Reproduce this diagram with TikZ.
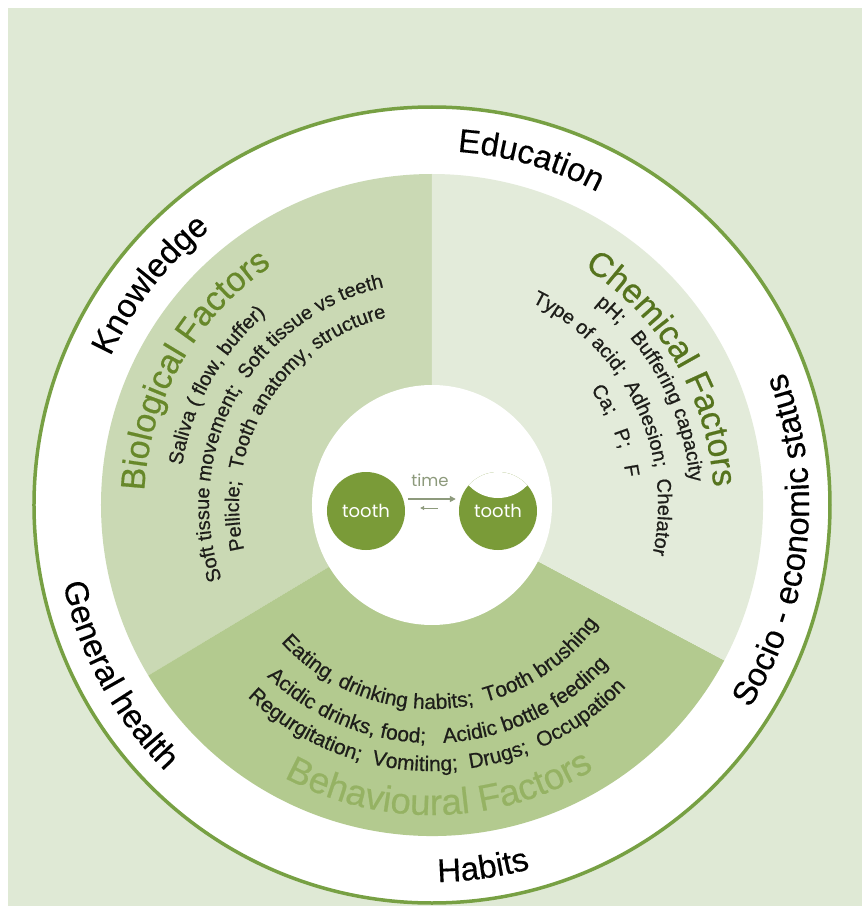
\documentclass[tikz,border=0pt]{standalone}
\usepackage{fontspec}
\setmainfont{Liberation Sans}
\newfontfamily\roundfont{Poppins}
\newfontfamily\ringface{Liberation Sans}[FakeBold=0.3]
\newfontfamily\titleface{Liberation Sans}[FakeBold=0.6]
\newfontfamily\itemface{Liberation Sans}[FakeBold=0.6]
\usetikzlibrary{decorations.text,arrows.meta}

\definecolor{pagebg}{HTML}{DFE9D5}
\definecolor{ringline}{HTML}{77A043}
\definecolor{biosec}{HTML}{CAD9B4}
\definecolor{chemsec}{HTML}{E3EBDA}
\definecolor{behavsec}{HTML}{B3CA8F}
\definecolor{biotitle}{HTML}{67882A}
\definecolor{chemtitle}{HTML}{56741E}
\definecolor{behavtitle}{HTML}{95B263}
\definecolor{toothgreen}{HTML}{7A9B38}
\definecolor{timegray}{HTML}{8D9A7C}
\definecolor{itemblack}{HTML}{1E1E1A}

\newcommand\ringfont{\ringface\fontsize{33}{40}\selectfont}
\newcommand\titlefont{\titleface\fontsize{34}{40}\selectfont}
\newcommand\bigtitlefont{\titleface\fontsize{36.5}{40}\selectfont}
\newcommand\itemfont{\itemface\fontsize{20}{24}\selectfont}
\newcommand\wideitemfont{\itemface\fontsize{21}{24}\selectfont}

% text on a clockwise arc (letters point outward): radius, centre angle, colour, font, text
\newcommand\cwtext[5]{%
  \path[decorate,decoration={text along path,text align=center,text color=#3,text={|#4|#5}}]
    ({#2+80}:#1) arc[start angle={#2+80},end angle={#2-80},radius=#1];}
% text on a counter-clockwise arc (letters point inward)
\newcommand\ccwtext[5]{%
  \path[decorate,decoration={text along path,text align=center,text color=#3,text={|#4|#5}}]
    ({#2-80}:#1) arc[start angle={#2-80},end angle={#2+80},radius=#1];}

\tikzset{
  toothdisc/.style={circle,fill=toothgreen,minimum size=78,inner sep=0,
    text=white,font=\roundfont\fontsize{18}{20}\selectfont},
  timearrow/.style={draw=timegray,line width=1.8,-{Triangle[length=6,width=6]}},
  backarrow/.style={draw=timegray,line width=0.9,-{Triangle[length=4,width=4]}},
}

\begin{document}
\begin{tikzpicture}[x=1pt,y=1pt]
  \useasboundingbox (-432,-401) rectangle (430,505);
  \fill[white] (-432,-401) rectangle (430,505);
  \fill[pagebg] (-424,-401) rectangle (430,497);

  \coordinate (C) at (0,0);

  % outer white ring
  \filldraw[fill=white,draw=ringline,line width=3.5] (C) circle (398);

  % three factor sectors
  \fill[biosec] (C) -- (90:331) arc[start angle=90,end angle=211,radius=331] -- cycle;
  \fill[behavsec] (C) -- (211:331) arc[start angle=211,end angle=332,radius=331] -- cycle;
  \fill[chemsec] (C) -- (332:331) arc[start angle=332,end angle=450,radius=331] -- cycle;

  % centre disc
  \fill[white] (C) circle (120);

  % teeth
  \node[toothdisc] (t1) at (-66,-6) {tooth};
  \node[toothdisc] (t2) at (66,-6) {};
  \begin{scope}
    \clip (t2.center) circle (39);
    \fill[white] (66,47) circle (40);
  \end{scope}
  \node[text=white,font=\roundfont\fontsize{18}{20}\selectfont] at (t2.center) {tooth};

  \draw[timearrow] ([shift={(3,12)}]t1.east) -- ([shift={(-3,12)}]t2.west);
  \draw[backarrow] ([shift={(-21,3)}]t2.west) -- ([shift={(15,3)}]t1.east);
  \node[text=timegray,font=\roundfont\fontsize{16.5}{18}\selectfont] (time) at (-2,25) {time};

  % ring labels
  \cwtext{354}{74}{black}{\ringfont}{Education}
  \cwtext{354}{142}{black}{\ringfont}{Knowledge}
  \ccwtext{377}{-6}{black}{\ringfont}{Socio - economic status}
  \ccwtext{377}{-82}{black}{\ringfont}{Habits}
  \ccwtext{377}{208.5}{black}{\ringfont}{General health}

  % sector titles
  \cwtext{288}{150.5}{biotitle}{\titlefont}{Biological Factors}
  \cwtext{282}{30.5}{chemtitle}{\titlefont}{Chemical Factors}
  \ccwtext{310}{271.5}{behavtitle}{\bigtitlefont}{Behavioural Factors}

  % biological items
  \cwtext{253}{151}{itemblack}{\itemfont}{Saliva ( flow, buffer)}
  \cwtext{223}{151}{itemblack}{\itemfont}{Soft tissue movement; {\ }Soft tissue vs teeth}
  \cwtext{193}{148.5}{itemblack}{\itemfont}{Pellicle; {\ }Tooth anatomy, structure}

  % chemical items
  \cwtext{259}{28}{itemblack}{\itemfont}{pH; {\ }{\ }Buffering capacity}
  \cwtext{226}{25.6}{itemblack}{\itemfont}{Type of acid; {\ }Adhesion; {\ }Chelator}
  \cwtext{196}{22}{itemblack}{\itemfont}{Ca; {\ }{\ }P; {\ }{\ }F}

  % behavioural items
  \ccwtext{204}{273.4}{itemblack}{\wideitemfont}{Eating, drinking habits; {\ }Tooth brushing}
  \ccwtext{238}{272}{itemblack}{\wideitemfont}{Acidic drinks, food; {\ }{\ }Acidic bottle feeding}
  \ccwtext{266}{271.5}{itemblack}{\wideitemfont}{Regurgitation; {\ }Vomiting; {\ }Drugs; {\ }Occupation}
\end{tikzpicture}
\end{document}
